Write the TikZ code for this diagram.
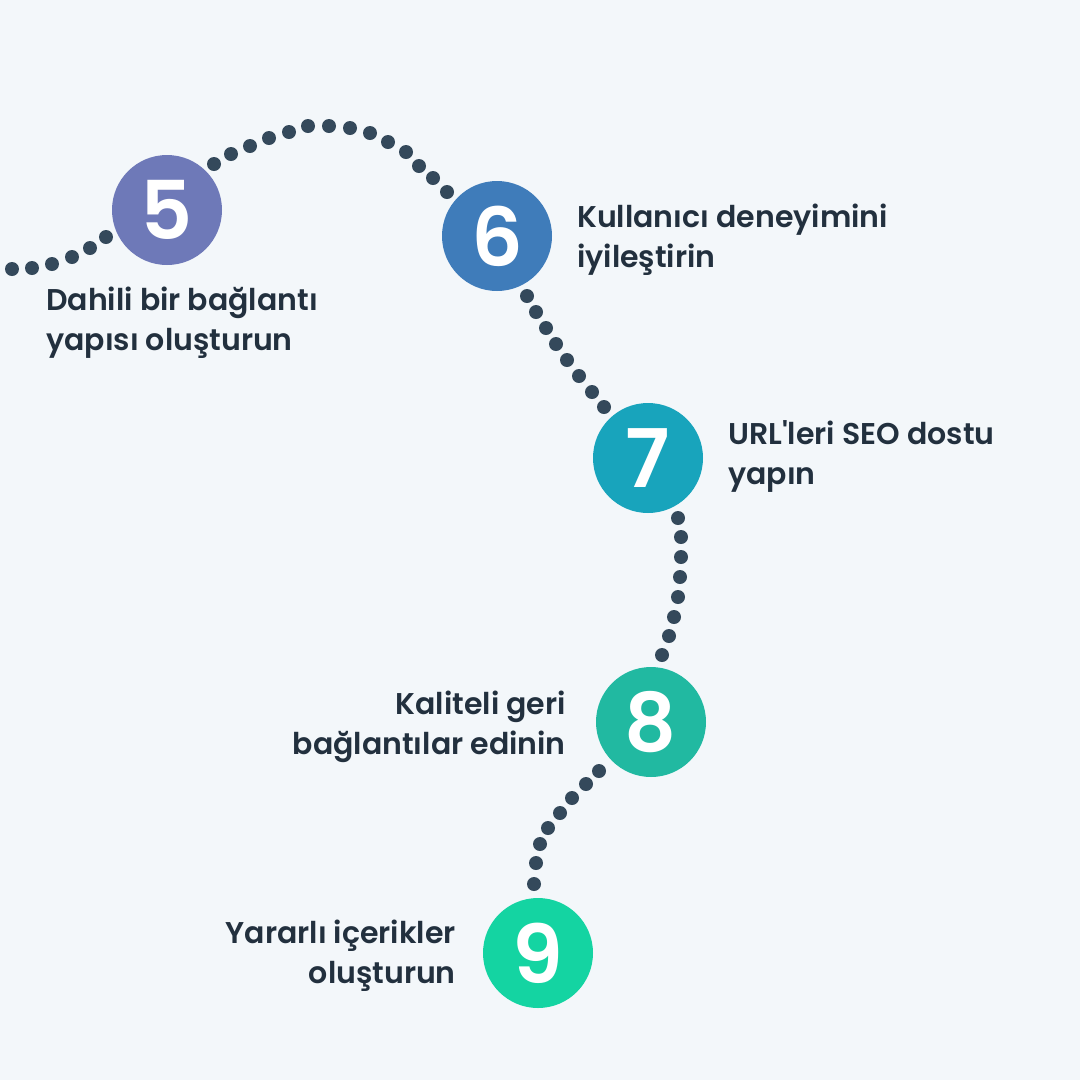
\documentclass[tikz,border=0pt]{standalone}
\usepackage{fontspec}
\setmainfont{Poppins}
\newfontfamily\lblfont{Poppins SemiBold}
\definecolor{bgc}{HTML}{F3F7FA}
\definecolor{dotc}{HTML}{34495B}
\definecolor{txtc}{HTML}{22303E}
\definecolor{cfive}{HTML}{6E79B8}
\definecolor{csix}{HTML}{3F7CBA}
\definecolor{cseven}{HTML}{18A4BC}
\definecolor{ceight}{HTML}{21B9A1}
\definecolor{cnine}{HTML}{14D4A2}
\begin{document}
\begin{tikzpicture}[x=1pt,y=-1pt,
  numcircle/.style={circle, minimum size=110pt, inner sep=0pt, text=white,
    font=\lblfont\fontsize{81}{81}\selectfont},
  lbl/.style={inner sep=0pt, text=txtc, font=\lblfont\fontsize{30}{40}\selectfont},
  dotfill/.style={fill=dotc}]
\fill[bgc] (0,0) rectangle (1080,1080);
\useasboundingbox (0,0) rectangle (1080,1080);
% dotted connectors
\foreach \p in {(12,269),(32,268),(52,264),(72,257),(90,248),(106,237),
  (214,164),(231,154),(250,146),(269,138),(289,132),(308,126),(329,126),(350,128),(370,133),(388,142),(406,152),(419,166),(433,178),(447,192),
  (527,296),(536,312),(546,328),(556,344),(567,360),(579,376),(592,392),(604,407),
  (678,518),(681,537),(681,557),(680,577),(678,597),(674,617),(669,636),(662,655),
  (599,771),(586,784),(572,798),(560,813),(548,828),(540,844),(536,863),(534,884)}
  \fill[dotfill] \p circle (7);
% steps
\node[numcircle, fill=cfive] (n5) at (167,210) {5};
\node[numcircle, fill=csix] (n6) at (497,236) {6};
\node[numcircle, fill=cseven] (n7) at (648,458) {7};
\node[numcircle, fill=ceight] (n8) at (651,722) {8};
\node[numcircle, fill=cnine] (n9) at (538,953) {9};
% labels (base anchor = baseline of the last line)
\node[lbl, anchor=base west, align=left] (t5) at (46,350) {Dahili bir bağlantı\\yapısı oluşturun};
\node[lbl, anchor=base west, align=left] (t6) at (577,267) {Kullanıcı deneyimini\\iyileştirin};
\node[lbl, anchor=base west, align=left] (t7) at (728,484) {URL'leri SEO dostu\\yapın};
\node[lbl, anchor=base east, align=right] (t8) at (566,754) {Kaliteli geri\\bağlantılar edinin};
\node[lbl, anchor=base east, align=right] (t9) at (456,983) {Yararlı içerikler\\oluşturun};
\end{tikzpicture}
\end{document}
